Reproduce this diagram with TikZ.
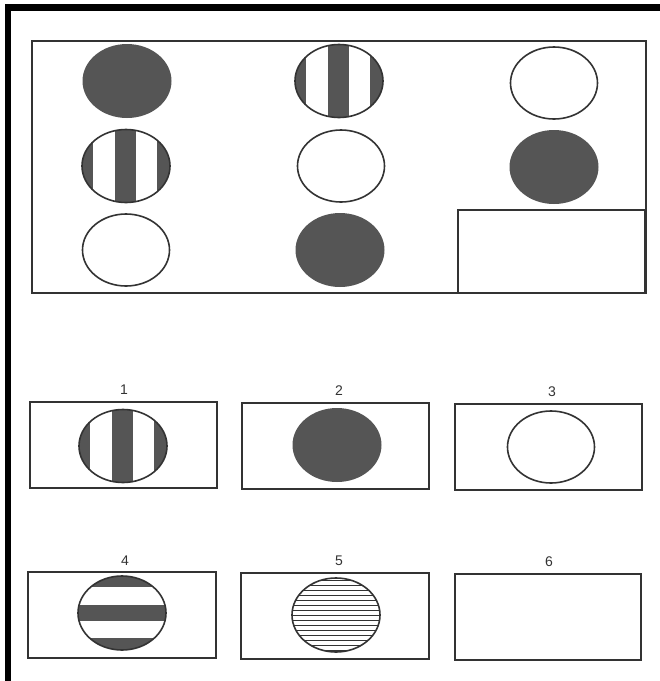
\documentclass[tikz,border=0pt]{standalone}
\usepackage{fontspec}
\setsansfont{Liberation Sans}
\definecolor{ink}{HTML}{333333}
\definecolor{fillg}{HTML}{555555}
\newcommand\solidcirc[2]{\fill[fillg] (#1,#2) ellipse [x radius=44.5, y radius=37];}
\newcommand\emptycirc[2]{\draw[ink] (#1,#2) ellipse [x radius=43.5, y radius=36];}
\newcommand\vstripecirc[2]{%
  \begin{scope}[shift={(#1,#2)}]
    \begin{scope}
      \clip (0,0) ellipse [x radius=44, y radius=36.5];
      \fill[fillg] (-46,-40) rectangle (-33,40);
      \fill[fillg] (-11,-40) rectangle (10,40);
      \fill[fillg] (31,-40) rectangle (46,40);
    \end{scope}
    \draw[ink] (0,0) ellipse [x radius=44, y radius=36.5];
  \end{scope}}
\newcommand\hstripecirc[2]{%
  \begin{scope}[shift={(#1,#2)}]
    \begin{scope}
      \clip (0,0) ellipse [x radius=44, y radius=37];
      \fill[fillg] (-46,-40) rectangle (46,-26);
      \fill[fillg] (-46,-8) rectangle (46,8);
      \fill[fillg] (-46,25) rectangle (46,40);
    \end{scope}
    \draw[ink] (0,0) ellipse [x radius=44, y radius=37];
  \end{scope}}
\newcommand\hatchcirc[2]{%
  \begin{scope}[shift={(#1,#2)}]
    \begin{scope}
      \clip (0,0) ellipse [x radius=44, y radius=37];
      \foreach \k in {-35,-30,...,35} {\draw[ink,line width=0.9pt] (-46,\k) -- (46,\k);}
    \end{scope}
    \draw[ink] (0,0) ellipse [x radius=44, y radius=37];
  \end{scope}}
\begin{document}
\begin{tikzpicture}[x=1pt,y=-1pt,line width=1.6pt,
  box/.style={draw=ink,line width=1.6pt},
  lab/.style={font=\sffamily\fontsize{14}{16}\selectfont,text=ink,inner sep=0pt}]
\useasboundingbox (0,0) rectangle (660,681);
\fill[white] (0,0) rectangle (660,681);
% black frame
\fill[black] (5,4) rectangle (660,11);
\fill[black] (5,4) rectangle (11,681);
% matrix box
\draw[box] (32,41) rectangle (646,293);
\draw[box] (458,210) rectangle (645,293);
% row 1
\solidcirc{127}{81}
\vstripecirc{339}{81}
\emptycirc{554}{83}
% row 2
\vstripecirc{126}{166}
\emptycirc{341}{166}
\solidcirc{554}{167}
% row 3
\emptycirc{126}{250}
\solidcirc{340}{250}
% answer boxes
\node[box,minimum width=187pt,minimum height=86pt,inner sep=0pt] (b1) at (123.5,445) {};
\node[box,minimum width=187pt,minimum height=86pt,inner sep=0pt] (b2) at (335.5,446) {};
\node[box,minimum width=187pt,minimum height=86pt,inner sep=0pt] (b3) at (548.5,447) {};
\node[box,minimum width=188pt,minimum height=86pt,inner sep=0pt] (b4) at (122,615) {};
\node[box,minimum width=188pt,minimum height=86pt,inner sep=0pt] (b5) at (335,616) {};
\node[box,minimum width=186pt,minimum height=86pt,inner sep=0pt] (b6) at (548,617) {};
\node[lab] (l1) at (124,390) {1};
\node[lab] (l2) at (339,391) {2};
\node[lab] (l3) at (552,392) {3};
\node[lab] (l4) at (125,561) {4};
\node[lab] (l5) at (339,561) {5};
\node[lab] (l6) at (549,562) {6};
\vstripecirc{123}{446}
\solidcirc{337}{445}
\emptycirc{551}{447}
\hstripecirc{122}{613}
\hatchcirc{336}{615}
\end{tikzpicture}
\end{document}
